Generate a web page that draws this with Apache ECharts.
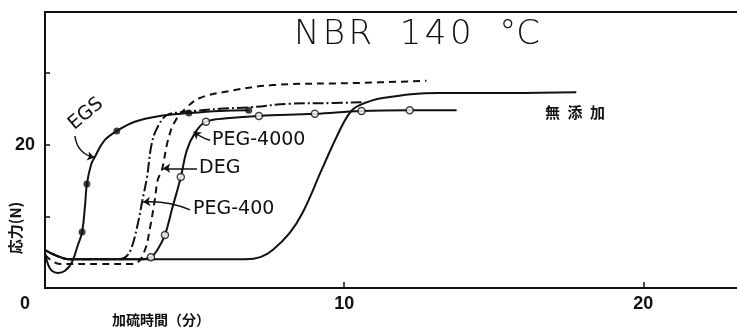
<!DOCTYPE html>
<html><head><meta charset="utf-8">
<script src="https://cdn.jsdelivr.net/npm/echarts@6/dist/echarts.min.js"></script>
<style>html,body{margin:0;padding:0;background:#fff}#c{width:737px;height:328px}</style>
</head><body><div id="c"></div>
<script>
// ---- data (time in minutes, stress in N) ----
const xTickLabels = [10, 20];
const yTickLabels = [20];

const noAdditive = [[0,5.3],[0.33,4.6],[0.83,4.0],[1.84,4.0],[6.70,4.0],[7.20,4.3],[7.61,5.3],[8.18,7.7],[8.61,10.5],[9.25,16.5],[9.75,21.1],[10.18,24.4],[10.52,25.5],[11.29,26.5],[13.19,27.2],[15.53,27.2],[17.76,27.3]];

const egs = [[0,5.0],[0.10,3.3],[0.23,2.4],[0.43,2.1],[0.67,2.4],[0.90,3.6],[1.10,6.0],[1.24,7.8],[1.34,11.6],[1.40,14.5],[1.54,17.2],[1.67,18.3],[1.97,20.5],[2.40,21.9],[3.0,23.2],[3.84,24.0],[4.81,24.4],[5.84,24.7],[6.81,24.8]];
const egsDots = [[1.24,7.8],[1.40,14.5],[2.40,21.9],[4.81,24.4],[6.81,24.8]];

const peg400 = [[0,5.3],[0.33,4.6],[0.83,4.0],[2.50,4.0],[2.74,4.5],[2.90,5.7],[3.11,9.1],[3.24,11.9],[3.41,15.5],[3.57,20.2],[3.77,22.5],[4.07,24.1],[4.51,24.5],[5.01,24.7],[5.84,25.0],[6.84,25.2],[8.18,25.7],[9.62,25.8],[10.58,25.9]];

const deg = [[0,4.6],[0.23,3.8],[0.50,3.35],[1.84,3.35],[2.84,3.35],[3.07,3.5],[3.34,5.3],[3.51,8.4],[3.67,12.3],[3.77,15.1],[3.91,16.5],[4.11,20.6],[4.34,23.2],[4.74,25.2],[5.18,26.5],[5.94,27.3],[7.61,28.3],[10.42,28.6],[12.75,28.9]];

const peg4000 = [[0,5.3],[0.33,4.6],[0.83,4.0],[3.17,4.0],[3.54,4.3],[3.77,5.4],[4.01,7.4],[4.24,10.9],[4.54,15.5],[4.74,19.2],[5.01,21.6],[5.38,23.2],[6.18,23.7],[7.15,24.0],[9.02,24.3],[10.58,24.7],[12.19,24.8],[13.76,24.8]];
const peg4000Dots = [[3.54,4.3],[4.01,7.4],[4.54,15.5],[5.38,23.2],[7.15,24.0],[9.02,24.3],[10.58,24.7],[12.19,24.8]];

// annotation arrows (data coordinates)
const arrowEGS = [[1.00,21.2],[1.65,18.2]];
const arrowPEG4000 = [[5.52,20.6],[4.97,21.8]];
const arrowDEG = [[5.08,16.7],[3.95,16.7]];
const arrowPEG400 = [[4.85,10.9],[3.28,12.0]];

const INK = '#111';
const chart = echarts.init(document.getElementById('c'), null, {renderer: 'canvas'});
const lineBase = {type: 'line', symbol: 'none', smooth: 0.4, silent: true, animation: false};
const txt = (x, y, s, size, extra) => Object.assign({
  type: 'text', x: x, y: y,
  style: Object.assign({text: s, fill: INK, font: 'normal ' + size + 'px "DejaVu Sans"', textVerticalAlign: 'middle'}, extra && extra.style || {})
}, extra && extra.el || {});

chart.setOption({
  backgroundColor: '#fff',
  animation: false,
  grid: {left: 45, right: -26, top: 12, bottom: 40, show: true, borderColor: INK, borderWidth: 2, containLabel: false, outerBoundsMode: 'none'},
  xAxis: {
    type: 'value', min: 0, max: 24, interval: 10,
    axisLine: {show: true, lineStyle: {color: INK, width: 2}},
    axisTick: {show: true, inside: true, length: 6, lineStyle: {color: INK, width: 1.5}},
    splitLine: {show: false},
    axisLabel: {
      margin: 7, color: INK, fontSize: 18, fontWeight: 'bold', fontFamily: 'Liberation Sans',
      showMaxLabel: false,
      formatter: v => v === 0 ? '{o|0}' : (xTickLabels.indexOf(v) >= 0 ? String(v) : ''),
      rich: {o: {padding: [0, 40, 0, 0], fontSize: 18, fontWeight: 'bold', fontFamily: 'Liberation Sans', color: INK}}
    }
  },
  yAxis: {
    type: 'value', min: 0, max: 38.5, interval: 10,
    axisLine: {show: true, lineStyle: {color: INK, width: 2}},
    axisTick: {show: true, inside: true, length: 5, lineStyle: {color: INK, width: 1.5}},
    splitLine: {show: false},
    axisLabel: {
      margin: 10, color: INK, fontSize: 18, fontWeight: 'bold', fontFamily: 'Liberation Sans',
      formatter: v => yTickLabels.indexOf(v) >= 0 ? String(v) : ''
    }
  },
  series: [
    Object.assign({}, lineBase, {name: '無添加', data: noAdditive, lineStyle: {color: INK, width: 2}}),
    Object.assign({}, lineBase, {name: 'PEG-400', data: peg400, lineStyle: {color: INK, width: 2, type: [11, 3, 2, 3]}}),
    Object.assign({}, lineBase, {name: 'DEG', data: deg, lineStyle: {color: INK, width: 2, type: [7, 5]}}),
    Object.assign({}, lineBase, {name: 'PEG-4000', data: peg4000, lineStyle: {color: INK, width: 2}}),
    Object.assign({}, lineBase, {name: 'EGS', data: egs, lineStyle: {color: INK, width: 2}}),
    {type: 'scatter', data: egsDots, symbol: 'circle', symbolSize: 7, itemStyle: {color: INK}, z: 5, silent: true},
    {type: 'scatter', data: peg4000Dots, symbol: 'circle', symbolSize: 7, itemStyle: {color: '#fff', borderColor: INK, borderWidth: 1.5}, z: 5, silent: true},
    {type: 'lines', coordinateSystem: 'cartesian2d', silent: true, symbol: ['none', 'arrow'], symbolSize: 7, z: 6,
      lineStyle: {color: INK, width: 1.5, opacity: 1},
      data: [
        {coords: arrowEGS, lineStyle: {curveness: -0.35}},
        {coords: arrowPEG4000, lineStyle: {curveness: 0.1}},
        {coords: arrowDEG, lineStyle: {curveness: 0}},
        {coords: arrowPEG400, lineStyle: {curveness: -0.12}}
      ]}
  ],
  graphic: [
    txt(417, 35, 'N\u200AB\u200AR\u2002 1\u200A4\u200A0\u2002 °C', 34, {style: {textAlign: 'center', font: '200 34px "DejaVu Sans"'}}),
    txt(86, 114, 'EGS', 19, {style: {textAlign: 'center'}, el: {rotation: 40 * Math.PI / 180}}),
    txt(212, 140, 'PEG-4000', 19),
    txt(199, 168, 'DEG', 19),
    txt(193, 209, 'PEG-400', 19),
    txt(545, 112, '無\u2002添\u2002加', 15, {style: {font: 'bold 15px "Noto Sans CJK JP"'}}),
    txt(161, 320, '加硫時間（分）', 14, {style: {textAlign: 'center', font: 'bold 14px "Noto Sans CJK JP"'}}),
    txt(15, 228, '応力(N)', 15, {style: {textAlign: 'center', font: 'bold 15px "Noto Sans CJK JP"'}, el: {rotation: Math.PI / 2}})
  ]
});
</script>
</body></html>
